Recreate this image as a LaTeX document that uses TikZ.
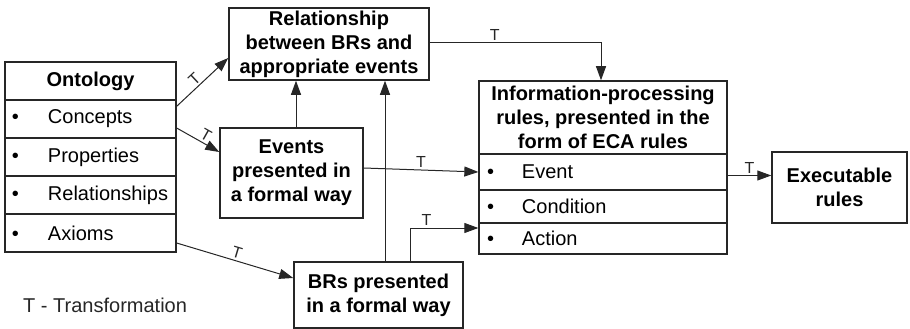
\documentclass[tikz,border=0pt]{standalone}
\usepackage{fontspec}
\setmainfont{Liberation Sans}
\usetikzlibrary{arrows.meta,calc}
\begin{document}
\begin{tikzpicture}[x=1pt,y=-1pt,
  box/.style={draw=black!85, line width=1.5pt, inner sep=1pt, align=center,
    font=\bfseries\fontsize{20}{24}\selectfont},
  orow/.style={draw=black!85, line width=1.3pt, inner xsep=7pt, inner ysep=0pt,
    minimum width=171pt, minimum height=38pt, text width=157pt, align=left,
    font=\fontsize{20}{24}\selectfont},
  irow/.style={draw=black!85, line width=1.3pt, inner xsep=8pt, inner ysep=0pt,
    minimum width=248pt, text width=232pt, align=left,
    font=\fontsize{20}{24}\selectfont},
  arr/.style={draw=black!85, line width=1pt, -{Triangle[length=14pt,width=10pt]}},
  tl/.style={font=\fontsize{16}{18}\selectfont, inner sep=2pt, text=black!85}]
\useasboundingbox (0,0) rectangle (910,329);

% Ontology
\node[box, minimum width=171pt, minimum height=38pt] (ohead) at (90.5,81) {Ontology};
\node[orow] (c1) at (90.5,119) {\makebox[36pt][l]{\textbullet}Concepts};
\node[orow] (c2) at (90.5,157) {\makebox[36pt][l]{\textbullet}Properties};
\node[orow] (c3) at (90.5,195) {\makebox[36pt][l]{\textbullet}Relationships};
\node[orow] (c4) at (90.5,233) {\makebox[36pt][l]{\textbullet}Axioms};

% Other boxes
\node[box, minimum width=200pt, minimum height=72pt] (rel) at (329,44)
  {Relationship\\between BRs and\\appropriate events};
\node[box, minimum width=143pt, minimum height=90pt] (evt) at (291.5,173)
  {Events\\presented in\\a formal way};
\node[box, minimum width=169pt, minimum height=66pt] (brs) at (378.5,295)
  {BRs presented\\in a formal way};
\node[box, minimum width=248pt, minimum height=73pt] (ihead) at (603,117.5)
  {Information-processing\\rules, presented in the\\form of ECA rules};
\node[irow, minimum height=36pt] (eev) at (603,172) {\makebox[35pt][l]{\textbullet}Event};
\node[irow, minimum height=33pt] (econ) at (603,206.5) {\makebox[35pt][l]{\textbullet}Condition};
\node[irow, minimum height=31pt] (eact) at (603,238.5) {\makebox[35pt][l]{\textbullet}Action};
\node[box, minimum width=135pt, minimum height=71pt] (exe) at (839.5,187.5)
  {Executable\\rules};

% Legend
\node[anchor=west, inner sep=3pt, font=\fontsize{20}{24}\selectfont, text=black!85] (legend) at (20,305) {T - Transformation};

% Connectors
\draw[arr] ([yshift=-7pt]c1.north east) -- node[tl,sloped,above,pos=0.45]{T} ([yshift=-14pt]rel.west);
\draw[arr] ([yshift=-9pt]c1.east) -- node[tl,sloped,above,pos=0.6]{T} ([yshift=21pt]evt.west);
\draw[arr] ([yshift=-10pt]c4.east) -- node[tl,sloped,above,pos=0.5]{T} ([yshift=17pt]brs.west);
\draw[arr] ([xshift=4.5pt]evt.north) -- ([xshift=4.5pt]evt.north |- rel.south);
\draw[arr] ([xshift=6.5pt]brs.north) -- ([xshift=6.5pt]brs.north |- rel.south);
\draw[arr] ([yshift=5pt]evt.east) -- node[tl,above]{T} (eev.west);
\draw[arr] ([xshift=31.5pt]brs.north) |- node[tl,above,pos=0.62]{T} ([yshift=10.5pt]eact.west);
\draw[arr] ([yshift=1pt]rel.east) -| node[tl,above,pos=0.19]{T} ([xshift=-2pt]ihead.north);
\draw[arr] ([yshift=-3.5pt]eev.east) -- node[tl,above]{T} ([yshift=-3.5pt]eev.east -| exe.west);
\end{tikzpicture}
\end{document}
